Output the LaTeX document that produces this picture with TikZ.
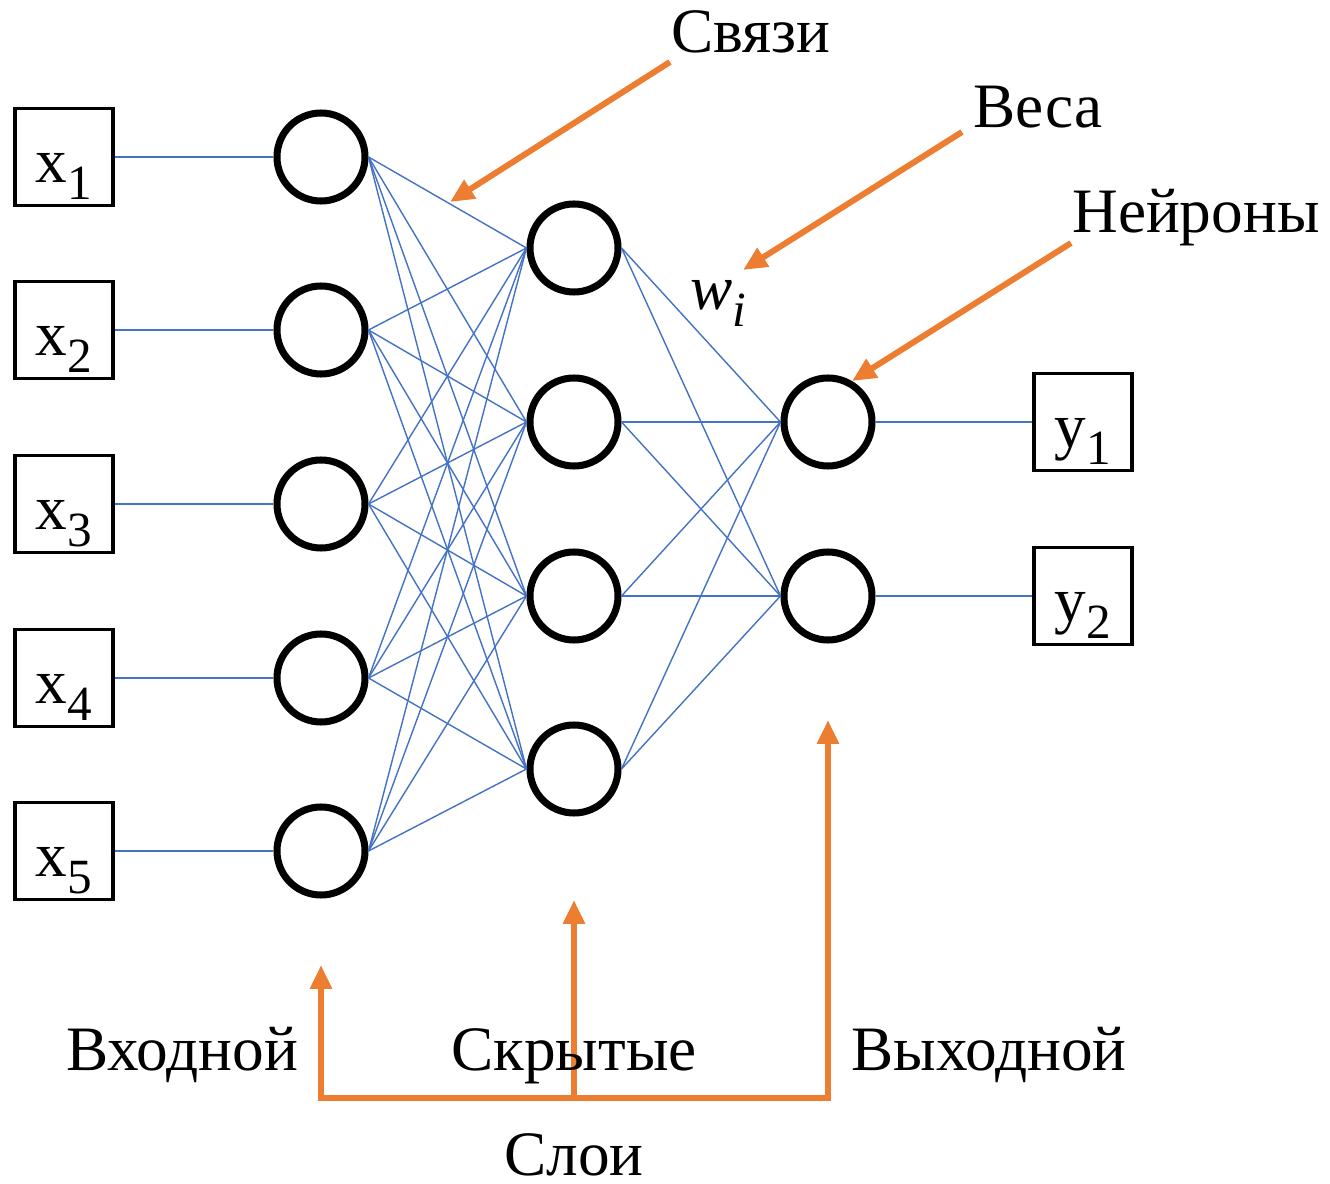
\documentclass[tikz,border=0pt]{standalone}
\usepackage{fontspec}
\setmainfont{Liberation Serif}
\usepackage{tikz}
\usetikzlibrary{shapes,arrows.meta,positioning}

\definecolor{linkblue}{HTML}{4472C4}
\definecolor{markorange}{HTML}{ED7D31}

% lowered, smaller index for the box labels
\newcommand{\lowsub}[1]{\raisebox{-0.26em}{\fontsize{14}{14}\selectfont #1}}

\begin{document}
\begin{tikzpicture}[
  font=\fontsize{18}{20}\selectfont,
  neuron/.style={circle, draw=black, line width=2pt, minimum size=0.88cm, inner sep=0pt},
  signal/.style={rectangle, draw=black, line width=1.1pt, minimum width=0.98cm, minimum height=0.97cm,
    inner sep=0pt, text height=0.52cm, text depth=0cm},
  link/.style={draw=linkblue, line width=0.4pt},
  pointer/.style={draw=markorange, line width=1.7pt, -{Triangle[length=0.24cm, width=0.21cm]}},
  caption/.style={anchor=base, inner sep=0pt}
]
\useasboundingbox (0,0) rectangle (13.3,-11.84);

% Inputs
\node[signal] (x1) at (0.64,-1.57) {x\lowsub{1}};
\node[signal] (x2) at (0.64,-3.30) {x\lowsub{2}};
\node[signal] (x3) at (0.64,-5.04) {x\lowsub{3}};
\node[signal] (x4) at (0.64,-6.78) {x\lowsub{4}};
\node[signal] (x5) at (0.64,-8.51) {x\lowsub{5}};

% Input layer
\node[neuron] (i1) at (3.21,-1.57) {};
\node[neuron] (i2) at (3.21,-3.30) {};
\node[neuron] (i3) at (3.21,-5.04) {};
\node[neuron] (i4) at (3.21,-6.78) {};
\node[neuron] (i5) at (3.21,-8.51) {};

% Hidden layer
\node[neuron] (h1) at (5.74,-2.48) {};
\node[neuron] (h2) at (5.74,-4.22) {};
\node[neuron] (h3) at (5.74,-5.96) {};
\node[neuron] (h4) at (5.74,-7.69) {};

% Output layer
\node[neuron] (o1) at (8.28,-4.22) {};
\node[neuron] (o2) at (8.28,-5.96) {};

% Outputs
\node[signal] (y1) at (10.83,-4.22) {y\lowsub{1}};
\node[signal] (y2) at (10.83,-5.96) {y\lowsub{2}};

% Connections
\foreach \k in {1,...,5}
  \draw[link] (x\k.east) -- (i\k.west);
\foreach \a in {1,...,5}
  \foreach \b in {1,...,4}
    \draw[link] (i\a.east) -- (h\b.west);
\foreach \a in {1,...,4}
  \foreach \b in {1,2}
    \draw[link] (h\a.east) -- (o\b.west);
\draw[link] (o1.east) -- (y1.west);
\draw[link] (o2.east) -- (y2.west);

% Annotations on top
\node[caption] (links) at (7.51,-0.53) {Связи};
\node[caption] (weights) at (10.38,-1.28) {Веса};
\node[caption] (neurons) at (11.96,-2.33) {Нейроны};
\node[caption, anchor=base west] (wi) at (6.90,-3.10) {\textit{w}\lowsub{\textit{i}}};

\coordinate (linksTail) at (6.70,-0.62);
\coordinate (linksTip) at (4.50,-2.02);
\coordinate (weightsTail) at (9.62,-1.32);
\coordinate (weightsTip) at (7.43,-2.70);
\coordinate (neuronsTail) at (10.71,-2.43);
\coordinate (neuronsTip) at (8.52,-3.81);

\draw[pointer] (linksTail) -- (linksTip);
\draw[pointer] (weightsTail) -- (weightsTip);
\draw[pointer] (neuronsTail) -- (neuronsTip);

% Layers bracket
\coordinate (inTip) at (3.21,-9.65);
\coordinate (hidTip) at (5.74,-9.00);
\coordinate (outTip) at (8.28,-7.20);
\coordinate (barL) at (3.21,-10.98);
\coordinate (barM) at (5.74,-10.98);
\coordinate (barR) at (8.28,-10.98);

\draw[pointer, {Triangle[length=0.24cm, width=0.21cm]}-{Triangle[length=0.24cm, width=0.21cm]}, line join=miter]
  (inTip) -- (barL) -- (barR) -- (outTip);
\draw[pointer] (barM) -- (hidTip);

\node[caption] (inLabel) at (1.82,-10.70) {Входной};
\node[caption] (hidLabel) at (5.74,-10.70) {Скрытые};
\node[caption] (outLabel) at (9.89,-10.70) {Выходной};
\node[caption] (layers) at (5.74,-11.75) {Слои};

\end{tikzpicture}
\end{document}
